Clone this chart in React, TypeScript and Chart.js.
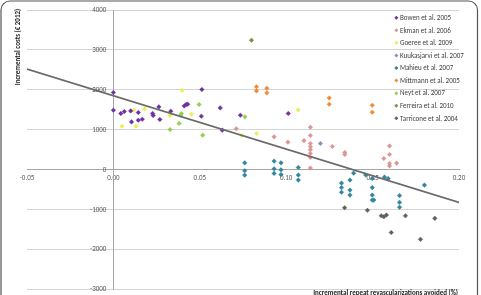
import React, { useEffect, useRef } from 'react';
import { Chart, registerables } from 'chart.js';

Chart.register(...registerables);

// ---- Data ----
const seriesNames = [
  'Bowen et al. 2005',
  'Ekman et al. 2006',
  'Goeree et al. 2009',
  'Kuukasjarvi et al. 2007',
  'Mahieu et al. 2007',
  'Mittmann et al. 2005',
  'Neyt et al. 2007',
  'Ferreira et al. 2010',
  'Tarricone et al. 2004',
];
const seriesColors = [
  '#7030A0',
  '#D99694',
  '#EDED5A',
  '#8C8FB3',
  '#31859C',
  '#F08A35',
  '#92D050',
  '#77933C',
  '#606060',
];

const bowenX = [0.0, 0.0, 0.0043, 0.0063, 0.010, 0.0144, 0.0105, 0.0144, 0.0167, 0.0227, 0.023, 0.0269, 0.0263, 0.0332, 0.041, 0.0423, 0.043, 0.0512, 0.0509, 0.0618, 0.063, 0.0735, 0.1012];
const bowenY = [1930, 1486, 1403, 1453, 1469, 1428, 1193, 1235, 1260, 1403, 1353, 1253, 1569, 1461, 1594, 1636, 1636, 2005, 1336, 1544, 985, 1361, 1403];

const ekmanX = [0.0711, 0.093, 0.101, 0.1103, 0.114, 0.114, 0.114, 0.114, 0.114, 0.114, 0.114, 0.114, 0.1267, 0.1339, 0.1339, 0.1598, 0.1598, 0.1565, 0.1598, 0.1598, 0.1639];
const ekmanY = [1022, 817, 684, 722, 1060, 852, 650, 570, 495, 400, 300, 35, 576, 426, 376, 589, 376, 276, 150, 88, 158];

const goereeX = [0.0049, 0.013, 0.0118, 0.018, 0.0328, 0.0398, 0.0451, 0.0743, 0.0829, 0.1069];
const goereeY = [1085, 1085, 1486, 1519, 1353, 1987, 1386, 852, 902, 1494];

const kuukasjarviX = [0.1198];
const kuukasjarviY = [652];

const mahieuX = [0.076, 0.076, 0.076, 0.093, 0.093, 0.093, 0.097, 0.097, 0.097, 0.107, 0.107, 0.107, 0.132, 0.132, 0.132, 0.1369, 0.1369, 0.1369, 0.139, 0.146, 0.1498, 0.1498, 0.1498, 0.1498, 0.1507, 0.1569, 0.159, 0.1656, 0.1656, 0.1656, 0.18];
const mahieuY = [165, -35, -143, 208, 15, -100, 165, -10, -130, 50, -138, -268, -343, -456, -574, -268, -519, -644, -93, -138, -226, -456, -644, -769, -769, -193, -230, -657, -827, -950, -393];

const mittmannX = [0.0828, 0.0828, 0.0888, 0.0888, 0.1249, 0.1249, 0.1498, 0.1498];
const mittmannY = [2075, 1970, 2037, 1920, 1792, 1636, 1611, 1436];

const neytX = [0.0328, 0.038, 0.0394, 0.039, 0.0496, 0.0517, 0.0761];
const neytY = [1002, 1153, 1403, 1361, 1630, 860, 1319];

const ferreiraX = [0.0799];
const ferreiraY = [3240];

const tarriconeX = [0.1338, 0.147, 0.155, 0.1565, 0.158, 0.169, 0.1608, 0.1777, 0.186];
const tarriconeY = [-962, -1025, -1163, -1188, -1145, -1163, -1584, -1754, -1228];

const trendX = [-0.05, 0.2];
const trendY = [2520, -830];

const xTickLabels = ['-0.05', '0.00', '0.05', '0.10', '0.15', '0.20'];
const yTickLabels = ['-3000', '-2000', '-1000', '0', '1000', '2000', '3000', '4000'];

const yTitle = 'Incremental costs (€ 2012)';
const xTitle = 'Incremental repeat revascularizations avoided (%)';

const seriesX = [bowenX, ekmanX, goereeX, kuukasjarviX, mahieuX, mittmannX, neytX, ferreiraX, tarriconeX];
const seriesY = [bowenY, ekmanY, goereeY, kuukasjarviY, mahieuY, mittmannY, neytY, ferreiraY, tarriconeY];

const FONT = 'Carlito, Lato, "Open Sans", sans-serif';

const framePlugin = {
  id: 'frameAndTitles',
  beforeDraw(chart: any) {
    const ctx = chart.ctx;
    ctx.save();
    ctx.fillStyle = '#ffffff';
    ctx.fillRect(0, 0, chart.width, chart.height);
    ctx.restore();
  },
  afterDraw(chart: any) {
    const ctx = chart.ctx;
    const xs = chart.scales.x;
    const ys = chart.scales.y;
    ctx.save();

    // y tick labels, left of the y axis line (which sits at x = 0)
    ctx.fillStyle = '#595959';
    ctx.font = '7px ' + FONT;
    ctx.textAlign = 'right';
    ctx.textBaseline = 'middle';
    const axisX = xs.getPixelForValue(0);
    yTickLabels.forEach((lab) => {
      ctx.fillText(lab, axisX - 7, ys.getPixelForValue(parseFloat(lab)) + 0.5);
    });

    // outer rounded frame
    ctx.strokeStyle = '#555555';
    ctx.lineWidth = 1.2;
    ctx.beginPath();
    (ctx as any).roundRect(1, 1, 476.5, 320, 9);
    ctx.stroke();

    // y title
    ctx.fillStyle = '#222222';
    ctx.font = 'bold 7px ' + FONT;
    ctx.textAlign = 'center';
    ctx.textBaseline = 'middle';
    ctx.translate(18, 47);
    ctx.rotate(-Math.PI / 2);
    ctx.fillText(yTitle, 0, 0);
    ctx.setTransform(1, 0, 0, 1, 0, 0);

    // x title
    ctx.textAlign = 'right';
    ctx.textBaseline = 'top';
    ctx.fillText(xTitle, 458, 290);

    // legend
    ctx.font = '7px ' + FONT;
    ctx.textAlign = 'left';
    ctx.textBaseline = 'middle';
    seriesNames.forEach((name, i) => {
      const y = 17.7 + i * 12.58;
      const x = 396.3;
      ctx.fillStyle = seriesColors[i];
      ctx.beginPath();
      ctx.moveTo(x, y - 2);
      ctx.lineTo(x + 2, y);
      ctx.lineTo(x, y + 2);
      ctx.lineTo(x - 2, y);
      ctx.closePath();
      ctx.fill();
      ctx.fillStyle = '#404040';
      ctx.fillText(name, 400, y + 0.5);
    });
    ctx.restore();
  },
};

export default function App() {
  const canvasRef = useRef<HTMLCanvasElement | null>(null);

  useEffect(() => {
    const canvas = canvasRef.current;
    if (!canvas) return;

    const datasets: any[] = seriesNames.map((name, i) => ({
      type: 'scatter',
      label: name,
      data: seriesX[i].map((x, j) => ({ x, y: seriesY[i][j] })),
      backgroundColor: seriesColors[i],
      borderColor: seriesColors[i],
      borderWidth: 0.4,
      pointStyle: 'rectRot',
      pointRadius: 2.3,
      order: 2,
    }));

    datasets.push({
      type: 'line',
      label: 'trend',
      data: trendX.map((x, j) => ({ x, y: trendY[j] })),
      borderColor: '#6b6b6b',
      borderWidth: 1.8,
      pointRadius: 0,
      fill: false,
      order: 1,
    });

    const chart = new Chart(canvas, {
      type: 'scatter',
      data: { datasets },
      plugins: [framePlugin],
      options: {
        responsive: false,
        animation: false,
        layout: { padding: { left: 27, right: 22, top: 10, bottom: 6 } },
        plugins: {
          legend: { display: false },
          tooltip: { enabled: false },
        },
        scales: {
          x: {
            type: 'linear',
            min: -0.05,
            max: 0.2,
            position: { y: 0 } as any,
            afterBuildTicks: (scale: any) => {
              scale.ticks = xTickLabels.map((l) => ({ value: parseFloat(l) }));
            },
            ticks: {
              callback: (_v: any, i: number) => xTickLabels[i],
              color: '#595959',
              font: { size: 7, family: FONT },
              padding: 5,
              maxRotation: 0,
              autoSkip: false,
            },
            grid: { display: false, drawTicks: false },
            border: { display: true, color: '#a6a6a6', width: 1 },
          },
          y: {
            type: 'linear',
            min: -3000,
            max: 4000,
            position: { x: 0 } as any,
            afterBuildTicks: (scale: any) => {
              scale.ticks = yTickLabels.map((l) => ({ value: parseFloat(l) }));
            },
            ticks: { display: false },
            grid: { display: true, color: '#d4d4d4', lineWidth: 1, drawTicks: false },
            border: { display: true, color: '#a6a6a6', width: 1 },
          },
        },
      },
    } as any);

    return () => chart.destroy();
  }, []);

  return (
    <div style={{ position: 'absolute', left: 0, top: 0, width: 481, height: 295 }}>
      <canvas ref={canvasRef} width={481} height={295} style={{ display: 'block', width: 481, height: 295 }} />
    </div>
  );
}
